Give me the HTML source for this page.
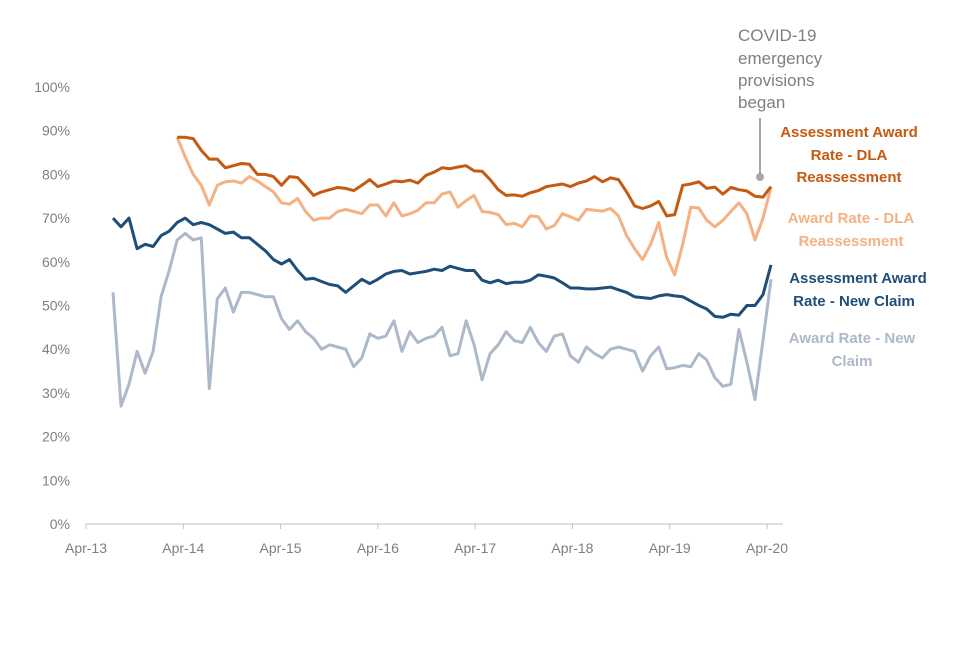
<!DOCTYPE html>
<html><head><meta charset="utf-8"><style>
body{margin:0;background:#fff;width:960px;height:640px;overflow:hidden;font-family:"Liberation Sans",sans-serif}
</style></head><body>
<svg id="chart" width="960" height="640" xmlns="http://www.w3.org/2000/svg">
<g id="grid"></g><g id="series"></g>
<g>
<text x="738" y="41" font-size="17" fill="#7f7f7f">COVID-19</text>
<text x="738" y="64" font-size="17" fill="#7f7f7f">emergency</text>
<text x="738" y="86" font-size="17" fill="#7f7f7f">provisions</text>
<text x="738" y="108" font-size="17" fill="#7f7f7f">began</text>
<line x1="760" y1="118" x2="760" y2="176" stroke="#a6a6a6" stroke-width="2"/>
<circle cx="760" cy="177" r="4" fill="#a6a6a6"/>
</g>
<g font-size="15" font-weight="bold" text-anchor="middle">
<text fill="#C55A11"><tspan x="849" y="137">Assessment Award</tspan><tspan x="849" y="160">Rate - DLA</tspan><tspan x="849" y="182">Reassessment</tspan></text>
<text fill="#F4B183"><tspan x="851" y="223">Award Rate - DLA</tspan><tspan x="851" y="246">Reassessment</tspan></text>
<text fill="#1F4E79"><tspan x="858" y="283">Assessment Award</tspan><tspan x="854" y="306">Rate - New Claim</tspan></text>
<text fill="#ADB9CA"><tspan x="852" y="343">Award Rate - New</tspan><tspan x="852" y="366">Claim</tspan></text>
</g>
</svg>
<script>
const yTicks=[0,10,20,30,40,50,60,70,80,90,100];
const xTickLabels=["Apr-13","Apr-14","Apr-15","Apr-16","Apr-17","Apr-18","Apr-19","Apr-20"];
const newAssess=[70,68,70,63,64,63.5,66,67,69,70,68.5,69,68.5,67.5,66.5,66.8,65.5,65.5,64,62.5,60.5,59.5,60.5,58,56,56.2,55.5,54.8,54.5,53,54.5,56,55,56,57.2,57.8,58,57.2,57.5,57.8,58.3,58,59,58.5,58,58,55.8,55.2,55.8,55,55.3,55.3,55.8,57,56.7,56.3,55.2,54,54,53.8,53.8,54,54.2,53.6,53,52,51.8,51.6,52.2,52.5,52.2,52,51,50,49.2,47.5,47.3,48,47.8,50,50,52.5,59.3];
const newAward=[53,27,32,39.5,34.5,39.5,52,58,65,66.5,65,65.5,31,51.5,54,48.5,53,53,52.5,52,52,47,44.5,46.5,44,42.5,40,41,40.5,40,36,38,43.5,42.5,43,46.5,39.5,44,41.5,42.5,43,45,38.5,39,46.5,41,33,39,41,44,42,41.5,45,41.5,39.5,43,43.5,38.5,37,40.5,39,38,40,40.5,40,39.5,35,38.5,40.5,35.5,35.8,36.3,36,39,37.5,33.5,31.5,32,44.5,37,28.5,42,56];
const dlaAssess=[88.5,88.5,88.2,85.5,83.5,83.5,81.5,82,82.5,82.3,80,80,79.5,77.5,79.5,79.3,77.3,75.2,76,76.5,77,76.8,76.3,77.5,78.8,77.2,77.8,78.5,78.3,78.7,78,79.8,80.5,81.5,81.3,81.7,82,80.8,80.7,78.8,76.5,75.2,75.3,75,75.8,76.3,77.2,77.5,77.8,77.2,78,78.5,79.5,78.3,79.2,78.8,76,72.8,72.2,72.8,73.8,70.5,70.8,77.5,77.8,78.3,76.8,77.1,75.5,77,76.5,76.2,75,74.8,77.2];
const dlaAward=[88.5,84,80,77.5,73,77.5,78.3,78.5,78,79.5,78.5,77.2,76,73.5,73.2,74.5,71.5,69.5,70,70,71.5,72,71.5,71,73,73,70.5,73.5,70.5,71,71.8,73.5,73.5,75.5,76,72.5,74,75.2,71.5,71.3,70.8,68.5,68.8,68,70.5,70.3,67.5,68.3,71,70.3,69.5,72,71.8,71.6,72.2,70.5,66,63,60.5,64,69,61,57,64,72.5,72.3,69.5,68,69.5,71.5,73.5,71,65,70,77];
const NS="http://www.w3.org/2000/svg";
const y0=524,y1=87,xL=86,xR=767,firstX=113,lastX=771;
function yS(v){return y0-(v/100)*(y0-y1);}
function xS(i,n){return firstX+(lastX-firstX)*i/(n-1);}
const N=newAssess.length;
const g=document.getElementById('grid'),s=document.getElementById('series');
function mk(t,a,p){const e=document.createElementNS(NS,t);for(const k in a)e.setAttribute(k,a[k]);p.appendChild(e);return e;}
yTicks.forEach(v=>{const t=mk('text',{x:70,y:yS(v)+5,'font-size':14,fill:'#7f7f7f','text-anchor':'end'},g);t.textContent=v+'%';

});
const ax=mk('line',{x1:xL,y1:y0,x2:783,y2:y0,stroke:'#bfbfbf','stroke-width':1},g);


xTickLabels.forEach((l,i)=>{const x=xL+(xR-xL)*i/(xTickLabels.length-1);
mk('line',{x1:x,y1:y0,x2:x,y2:y0+5,stroke:'#bfbfbf'},g);
const t=mk('text',{x:x,y:553,'font-size':14,fill:'#7f7f7f','text-anchor':'middle'},g);t.textContent=l;

});
function line(arr,color,name){const off=N-arr.length;const pts=arr.map((v,i)=>xS(i+off,N).toFixed(1)+','+yS(v).toFixed(1)).join(' ');
const p=mk('polyline',{points:pts,fill:'none',stroke:color,'stroke-width':3,'stroke-linejoin':'round'},s);

}
line(newAward,'#ADB9CA','series-award-rate-new-claim');
line(dlaAward,'#F4B183','series-award-rate-dla');
line(newAssess,'#1F4E79','series-assessment-new-claim');
line(dlaAssess,'#C55A11','series-assessment-dla');
</script>
</body></html>
